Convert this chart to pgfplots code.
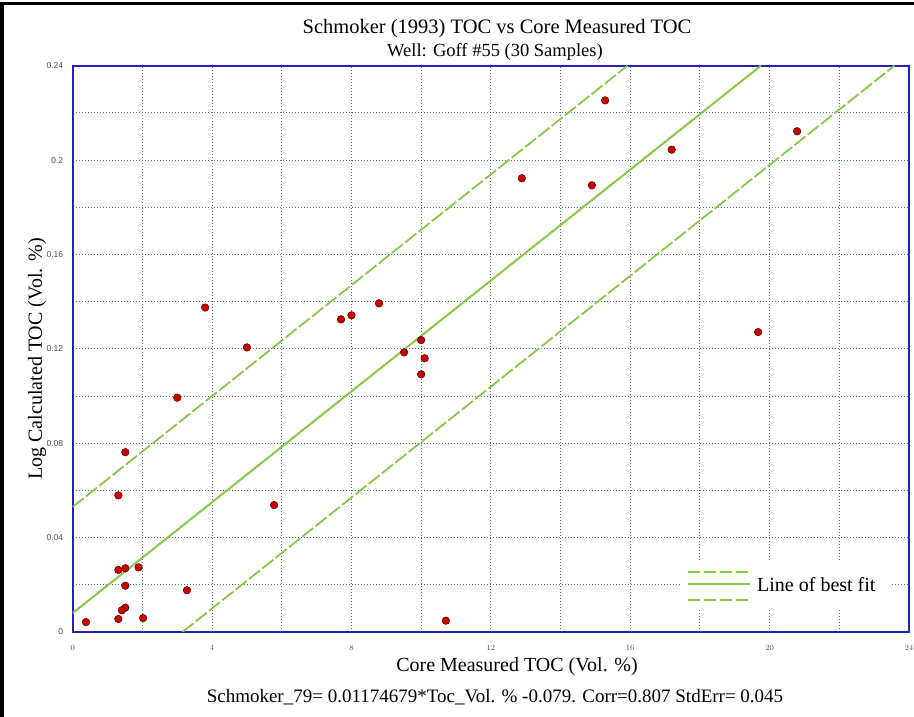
\documentclass[border=0pt]{standalone}
\usepackage{fontspec}
\setmainfont{Liberation Serif}
\newfontfamily\tickfont{Liberation Sans}
\usepackage{pgfplots}
\pgfplotsset{compat=1.18}
\definecolor{fitgreen}{RGB}{135,200,75}
\definecolor{axblue}{RGB}{35,35,175}
\definecolor{gridc}{RGB}{85,115,130}
\definecolor{dotred}{RGB}{200,0,0}
\begin{document}
\begin{tikzpicture}[x=1pt,y=1pt]
\path[use as bounding box] (0,0) rectangle (914,717);
\draw[black, line width=3.5pt] (2,0) -- (2,713.5) -- (914,713.5);
\begin{axis}[
  at={(72.7pt,85pt)}, anchor=south west,
  scale only axis, width=836.3pt, height=566.3pt,
  xmin=0, xmax=24, ymin=0, ymax=0.24,
  xtick={0,4,8,12,16,20,24},
  minor xtick={2,6,10,14,18,22},
  ytick={0,0.04,0.08,0.12,0.16,0.2,0.24},
  yticklabels={0,0.04,0.08,0.12,0.16,0.2,0.24},
  minor ytick={0.02,0.06,0.1,0.14,0.18,0.22},
  scaled y ticks=false,
  grid=both,
  major grid style={gridc, dash pattern=on 1pt off 2pt, line width=0.9pt},
  minor grid style={gridc, dash pattern=on 1pt off 2pt, line width=0.9pt},
  axis line style={axblue, line width=2pt},
  major tick length=0pt, minor tick length=0pt,
  tick style={draw=none},
  ticklabel style={font=\tickfont\fontsize{8.5}{9}\selectfont, text=black!70},
  xticklabel style={anchor=center, yshift=-16pt},
  yticklabel style={anchor=east, xshift=-6pt},
  clip=true,
]
\addplot[fitgreen, line width=2pt] coordinates {(0,0.008) (19.75,0.24)};
\addplot[fitgreen, line width=1.8pt, dash pattern=on 14pt off 3pt] coordinates {(0,0.053) (15.92,0.24)};
\addplot[fitgreen, line width=1.8pt, dash pattern=on 14pt off 3pt] coordinates {(3.15,0) (23.58,0.24)};
\addplot[only marks, mark=*, mark size=3.8pt, mark options={fill=dotred, draw=black!55!dotred, line width=0.5pt}] coordinates {
(0.38,0.0042) (1.51,0.0762) (1.31,0.0579) (1.31,0.0263) (1.51,0.0270)
(1.89,0.0274) (1.51,0.0196) (3.28,0.0177) (1.51,0.0103) (1.41,0.0092)
(1.31,0.0055) (2.02,0.0059) (3.0,0.0993) (3.80,0.1375) (5.0,0.1206)
(7.70,0.1325) (8.0,0.1342) (8.79,0.1393) (9.51,0.1185) (10.0,0.1237)
(10.10,0.1160) (10.0,0.1092) (5.78,0.0538) (10.71,0.0048) (15.28,0.2253)
(12.89,0.1923) (14.90,0.1893) (17.19,0.2044) (20.79,0.2122) (19.67,0.1271)
};
\end{axis}
% legend
\fill[white] (680,107) rectangle (890,155);
\draw[fitgreen, line width=1.8pt, dash pattern=on 12pt off 4pt] (688,145.3) -- (752,145.3);
\draw[fitgreen, line width=1.8pt] (688,133.3) -- (750,133.3);
\draw[fitgreen, line width=1.8pt, dash pattern=on 12pt off 4pt] (688,117) -- (752,117);
\node[anchor=west, inner sep=0pt, font=\fontsize{20}{22}\selectfont] at (757,132) {Line of best fit};
% titles
\node[anchor=base, inner sep=0pt, font=\fontsize{20.5}{22}\selectfont] at (497,683) {Schmoker (1993) TOC vs Core Measured TOC};
\node[anchor=base, inner sep=0pt, font=\fontsize{18.5}{21}\selectfont] at (495,660) {Well: Goff \#55 (30 Samples)};
\node[anchor=base, inner sep=0pt, font=\fontsize{20}{22}\selectfont] at (517,45) {Core Measured TOC (Vol. \%)};
\node[anchor=base, inner sep=0pt, font=\fontsize{19}{21}\selectfont] at (495,14) {Schmoker\_79= 0.01174679*Toc\_Vol. \% -0.079. Corr=0.807 StdErr= 0.045};
\node[anchor=base, inner sep=0pt, rotate=90, font=\fontsize{20}{22}\selectfont] at (42,358) {Log Calculated TOC (Vol. \%)};
\end{tikzpicture}
\end{document}
